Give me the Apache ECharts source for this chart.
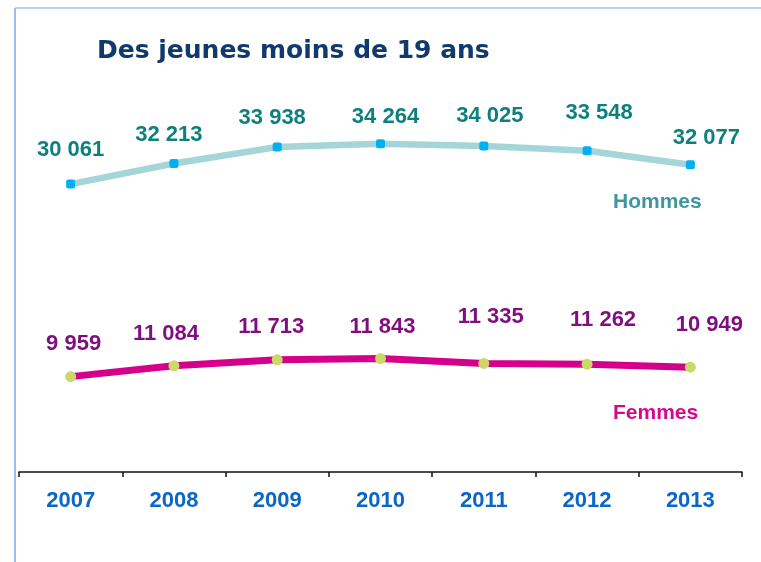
<!DOCTYPE html>
<html>
<head>
<meta charset="utf-8">
<script src="https://cdn.jsdelivr.net/npm/echarts@6/dist/echarts.min.js"></script>
<style>
html,body{margin:0;padding:0;background:#fff;}
#chart{width:761px;height:562px;}
</style>
</head>
<body>
<div id="chart"></div>
<script>
const years = ['2007','2008','2009','2010','2011','2012','2013'];
const hommes = [30061, 32213, 33938, 34264, 34025, 33548, 32077];
const femmes = [9959, 11084, 11713, 11843, 11335, 11262, 10949];
const titleText = 'Des jeunes moins de 19 ans';
const hommesName = 'Hommes';
const femmesName = 'Femmes';

// label placement (style only)
const hommesLabelOffsets = [[0,-34],[-5,-29],[-5,-29],[5,-27],[6,-30],[12,-38],[16,-27]];
const femmesLabelOffsets = [[3,-33],[-8,-32],[-6,-33],[2,-32],[7,-46],[16,-44],[19,-42]];

const fmt = v => String(v).replace(/\B(?=(\d{3})+(?!\d))/g, ' ');
const FONT = '"Liberation Sans", Arial, sans-serif';

function buildData(vals, offs){
  return vals.map((v,i)=>({value:v, label:{offset:offs[i]}}));
}

const chart = echarts.init(document.getElementById('chart'), null, {renderer:'canvas'});
chart.setOption({
  animation:false,
  backgroundColor:'#ffffff',
  title:{
    text:titleText, left:92, top:34,
    textStyle:{color:'#113A6C', fontSize:25, fontWeight:'bold', fontFamily:'"DejaVu Sans", sans-serif'}
  },
  grid:{left:19, right:19, top:41, bottom:90},
  xAxis:{
    type:'category', data:years, boundaryGap:true,
    axisLine:{lineStyle:{color:'#111', width:1.5}},
    axisTick:{show:true, length:5, alignWithLabel:false, lineStyle:{color:'#111', width:1.5}},
    axisLabel:{color:'#0A66C8', fontSize:22, fontWeight:'bold', fontFamily:FONT, margin:18}
  },
  yAxis:{type:'value', min:0, max:45000, show:false, splitLine:{show:false}},
  graphic:[
    {type:'line', shape:{x1:15, y1:8, x2:761, y2:8}, style:{stroke:'#9CC0EC', lineWidth:1.5}},
    {type:'line', shape:{x1:15, y1:8, x2:15, y2:562}, style:{stroke:'#9CC0EC', lineWidth:2}},
    {type:'text', left:613, top:192, style:{text:hommesName, fill:'#3D96A0', fontSize:21, fontWeight:'bold', fontFamily:FONT}},
    {type:'text', left:613, top:403, style:{text:femmesName, fill:'#D10A8F', fontSize:21, fontWeight:'bold', fontFamily:FONT}}
  ],
  series:[
    {
      name:hommesName, type:'line', data:buildData(hommes, hommesLabelOffsets),
      lineStyle:{color:'#A3D5D9', width:6.5},
      symbol:'roundRect', symbolSize:9,
      itemStyle:{color:'#00B0F0'},
      label:{show:true, position:'inside', formatter:p=>fmt(p.value), color:'#0E7F7F',
        fontSize:22, fontWeight:'bold', fontFamily:FONT}
    },
    {
      name:femmesName, type:'line', data:buildData(femmes, femmesLabelOffsets),
      lineStyle:{color:'#D4008C', width:7},
      symbol:'circle', symbolSize:11,
      itemStyle:{color:'#CCD966'},
      label:{show:true, position:'inside', formatter:p=>fmt(p.value), color:'#7F0F7F',
        fontSize:22, fontWeight:'bold', fontFamily:FONT}
    }
  ]
});
</script>
</body>
</html>
